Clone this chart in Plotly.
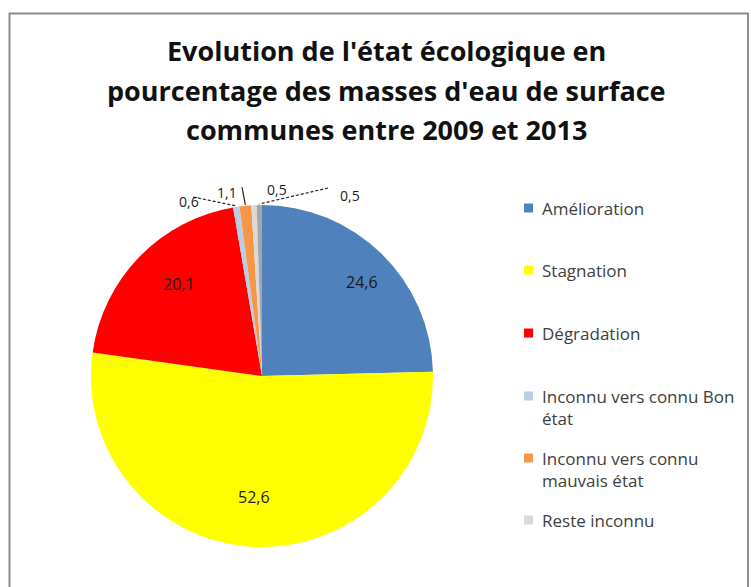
import math
import plotly.graph_objects as go

# Data
categories = [
    "Amélioration",
    "Stagnation",
    "Dégradation",
    "Inconnu vers connu Bon état",
    "Inconnu vers connu mauvais état",
    "Reste inconnu",
    "Autre",
]
values = [24.6, 52.6, 20.1, 0.6, 1.1, 0.5, 0.5]
legend_lines = [
    ["Amélioration"],
    ["Stagnation"],
    ["Dégradation"],
    ["Inconnu vers connu Bon", "état"],
    ["Inconnu vers connu", "mauvais état"],
    ["Reste inconnu"],
]
title_lines = [
    "Evolution de l'état écologique en",
    "pourcentage des masses d'eau de surface",
    "communes entre 2009 et 2013",
]

colors = ["#4F81BD", "#FFFF00", "#FF0000", "#B9CDE5", "#F79646", "#D9D9D9", "#A6A6A6"]

W, H = 751, 587
CX, CY, R = 262, 376, 171


def px(x):
    return x / W


def py(y):
    return 1 - y / H


def fmt(v):
    return f"{v:.1f}".replace(".", ",")


fig = go.Figure(
    go.Pie(
        labels=categories,
        values=values,
        sort=False,
        direction="clockwise",
        rotation=0,
        marker=dict(colors=colors, line=dict(width=0)),
        textinfo="none",
        hoverinfo="label+value",
        showlegend=False,
        domain=dict(x=[px(CX - R), px(CX + R)], y=[py(CY + R), py(CY - R)]),
    )
)

# slice mid-angles (degrees clockwise from 12 o'clock)
total = sum(values)
mids, acc = [], 0.0
for v in values:
    mids.append((acc + v / 2) / total * 360)
    acc += v


def polar(theta, f):
    t = math.radians(theta)
    return CX + f * R * math.sin(t), CY - f * R * math.cos(t)


annotations = []
shapes = []

# labels inside the three large slices
inner_shift = [2.5, 7.6, -1.6]
for i, shift in enumerate(inner_shift):
    x, y = polar(mids[i] + shift, 0.8)
    annotations.append(dict(
        x=px(x), y=py(y), xref="paper", yref="paper", text=fmt(values[i]),
        showarrow=False, font=dict(family="Open Sans", size=16, color="#1a1a1a"),
    ))

# labels for the thin slices, placed above the pie
outer_offset = [(-59, -17), (-30, -25), (23, -27), (91, -21)]
leader = [
    ((193, 197), True),
    ((242, 187), False),
    (None, False),
    ((328, 188), True),
]
for k, (dx, dy) in enumerate(outer_offset):
    i = 3 + k
    ex, ey = polar(mids[i], 1.0)
    lx, ly = ex + dx, ey + dy
    annotations.append(dict(
        x=px(lx), y=py(ly), xref="paper", yref="paper", text=fmt(values[i]),
        showarrow=False, font=dict(family="Open Sans", size=14, color="#1a1a1a"),
    ))
    end, dashed = leader[k]
    if end is not None:
        shapes.append(dict(
            type="line", xref="paper", yref="paper",
            x0=px(end[0]), y0=py(end[1]), x1=px(ex), y1=py(ey - 1),
            line=dict(color="#222222", width=1.2, dash="3px,2px" if dashed else "solid"),
        ))

# title
for j, line in enumerate(title_lines):
    annotations.append(dict(
        x=px(387), y=py(51 + j * 39.5), xref="paper", yref="paper", text=line,
        showarrow=False,
        font=dict(family="Open Sans", size=27, color="#111111", weight=700),
        xanchor="center", yanchor="middle",
    ))

# legend
LEG_FONT = 17
line_gap = 1.3 * LEG_FONT
legend_y = [208, 270, 333, 396, 458, 520]
for i, (lines, ly) in enumerate(zip(legend_lines, legend_y)):
    shapes.append(dict(
        type="rect", xref="paper", yref="paper",
        x0=px(524), x1=px(533), y0=py(ly - 4.5), y1=py(ly + 4.5),
        fillcolor=colors[i], line=dict(width=0),
    ))
    annotations.append(dict(
        x=px(540), y=py(ly + (len(lines) - 1) * line_gap / 2),
        xref="paper", yref="paper", text="<br>".join(lines),
        showarrow=False, xanchor="left", yanchor="middle", align="left",
        font=dict(family="Open Sans", size=LEG_FONT, color="#404040"),
    ))

# chart frame
shapes.append(dict(
    type="rect", xref="paper", yref="paper",
    x0=px(9.5), x1=px(748), y0=py(600), y1=py(13.5),
    line=dict(color="#8c8c8c", width=2), fillcolor="rgba(0,0,0,0)", layer="below",
))

fig.update_layout(
    width=W, height=H,
    margin=dict(l=0, r=0, t=0, b=0),
    paper_bgcolor="white", plot_bgcolor="white",
    annotations=annotations, shapes=shapes,
)

fig.write_html("out.html")
